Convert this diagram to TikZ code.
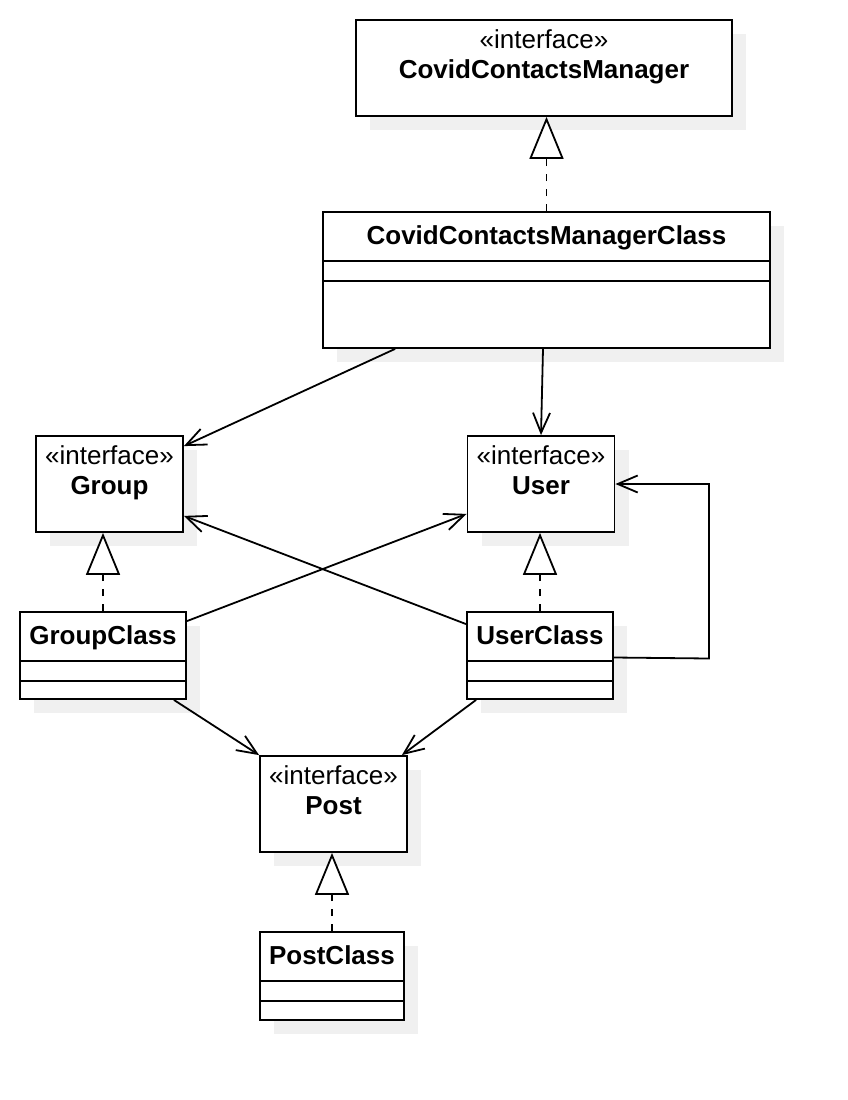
\documentclass[tikz,border=0pt]{standalone}
\usepackage{fontspec}
\setmainfont{Liberation Sans}
\usetikzlibrary{arrows.meta,shadows}

\begin{document}
\begin{tikzpicture}[x=1pt,y=-1pt,font=\fontsize{26}{30}\selectfont,line width=1.8pt,
  box/.style={draw,fill=white,rectangle,inner sep=0pt,
    drop shadow={shadow xshift=14pt,shadow yshift=-14pt,fill=black!6,opacity=1}},
  title/.style={anchor=base,font=\fontsize{26}{30}\selectfont\bfseries},
  assoc/.style={-{Straight Barb[length=20pt,width=17pt]}},
  realize/.style={dash pattern=on 7pt off 8pt,
    -{Triangle[length=42pt,width=34pt,fill=white]}}]
  \useasboundingbox (0,0) rectangle (848,1100);
  % interfaces
  \node[box,minimum width=376pt,minimum height=96pt] (ccm) at (544,68) {};
  \node[box,minimum width=147pt,minimum height=96pt] (grp) at (109.5,484) {};
  \node[box,minimum width=147pt,minimum height=96pt] (usr) at (541,484) {};
  \node[box,minimum width=147pt,minimum height=96pt] (pst) at (333.5,804) {};
  % classes
  \node[box,minimum width=447pt,minimum height=136pt] (cmc) at (546.5,280) {};
  \node[box,minimum width=166pt,minimum height=87pt] (gc) at (103,655.5) {};
  \node[box,minimum width=146pt,minimum height=87pt] (uc) at (540,655.5) {};
  \node[box,minimum width=144pt,minimum height=88pt] (pc) at (332,976) {};
  \foreach \n/\t in {ccm/CovidContactsManager,grp/Group,usr/User,pst/Post} {
    \node[anchor=base] (\n-st) at ([yshift=-29.5pt]\n.north) {«interface»};
    \node[title] (\n-nm) at ([yshift=-59.5pt]\n.north) {\t};
  }
  \foreach \n/\t in {cmc/CovidContactsManagerClass,gc/GroupClass,uc/UserClass,pc/PostClass} {
    \node[title] (\n-nm) at ([yshift=-33pt]\n.north) {\t};
    \draw ([yshift=-50pt]\n.north west) -- ([yshift=-50pt]\n.north east);
    \draw ([yshift=-70pt]\n.north west) -- ([yshift=-70pt]\n.north east);
  }
  % realizations
  \draw[realize] (cmc.north) -- (cmc.north |- ccm.south);
  \draw[realize] (gc.north) -- (gc.north |- grp.south);
  \draw[realize] (uc.north) -- (uc.north |- usr.south);
  \draw[realize] (pc.north) -- (pc.north |- pst.south);
  % associations
  \draw[assoc] ([xshift=73pt]cmc.south west) -- ([yshift=-11pt]grp.north east);
  \draw[assoc] ([xshift=-3.5pt]cmc.south) -- (usr.north);
  \draw[assoc] ([yshift=-10pt]gc.north east) -- ([yshift=19pt]usr.south west);
  \draw[assoc] ([yshift=-13pt]uc.north west) -- ([yshift=17pt]grp.south east);
  \draw[assoc] ([yshift=-2pt]uc.east) -- ++(95,1) |- (usr.east);
  \draw[assoc] ([xshift=-13pt]gc.south east) -- (pst.north west);
  \draw[assoc] ([xshift=10pt]uc.south west) -- ([xshift=-6pt]pst.north east);
\end{tikzpicture}
\end{document}
